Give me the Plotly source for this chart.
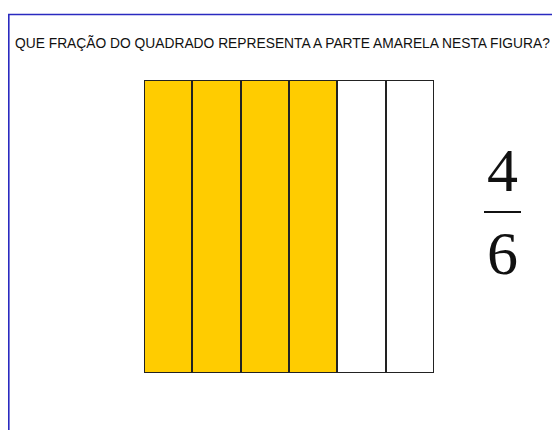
import plotly.graph_objects as go

# Data
question = "QUE FRAÇÃO DO QUADRADO REPRESENTA A PARTE AMARELA NESTA FIGURA?"
numerator = 4
denominator = 6
parts = list(range(1, denominator + 1))
part_heights = [1] * denominator
part_colors = ["#FFCC00" if p <= numerator else "#FFFFFF" for p in parts]

# page body has an 8px default margin; figure sized to fill the remaining window
OFF = 8
W, H = 560 - OFF, 430 - OFF


def px(x):
    return (x - OFF) / W


def py(y):
    return (H - (y - OFF)) / H


fig = go.Figure()
fig.add_trace(go.Bar(
    x=parts, y=part_heights, width=1,
    marker=dict(color=part_colors, line=dict(color="#222222", width=2)),
    xaxis="x", yaxis="y", hoverinfo="skip", showlegend=False,
))

fig.update_layout(
    width=W, height=H,
    margin=dict(l=0, r=0, t=0, b=0),
    paper_bgcolor="white", plot_bgcolor="rgba(0,0,0,0)",
    xaxis=dict(domain=[px(144), px(434)], range=[0.5, denominator + 0.5],
               visible=False, fixedrange=True),
    yaxis=dict(domain=[py(373), py(80)], range=[0, 1],
               visible=False, fixedrange=True),
    bargap=0,
    shapes=[
        # blue frame
        dict(type="rect", xref="paper", yref="paper",
             x0=px(8.8), x1=1.05, y0=-0.05, y1=py(14.5),
             line=dict(color="#2a2ac0", width=1.6), fillcolor="rgba(0,0,0,0)", layer="below"),
        # fraction bar
        dict(type="line", xref="paper", yref="paper",
             x0=px(484), x1=px(521), y0=py(212), y1=py(212),
             line=dict(color="#111111", width=2)),
    ],
    annotations=[
        dict(text=question, xref="paper", yref="paper", x=px(14), y=py(43),
             xanchor="left", yanchor="middle", showarrow=False, borderpad=0,
             font=dict(family="Liberation Sans, Arial", size=13.8, color="#111111")),
        dict(text=str(numerator), xref="paper", yref="paper", x=px(502), y=py(170),
             xanchor="center", yanchor="middle", showarrow=False,
             font=dict(family="Liberation Serif, Times New Roman", size=62, color="#111111")),
        dict(text=str(denominator), xref="paper", yref="paper", x=px(502), y=py(253),
             xanchor="center", yanchor="middle", showarrow=False,
             font=dict(family="Liberation Serif, Times New Roman", size=62, color="#111111")),
    ],
)

fig.write_html("out.html")
